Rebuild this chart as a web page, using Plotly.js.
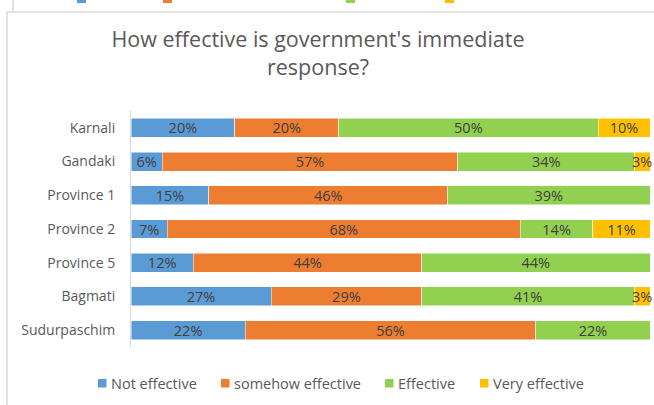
<!DOCTYPE html>
<html>
<head>
<meta charset="utf-8">
<script src="https://cdn.plot.ly/plotly-3.0.1.min.js"></script>
<style>html,body{margin:0;padding:0;background:#fff;}#chart{width:654px;height:405px;}</style>
</head>
<body>
<div id="chart"></div>
<script>
// ---- data ----
const provinces = ['Karnali', 'Gandaki', 'Province 1', 'Province 2', 'Province 5', 'Bagmati', 'Sudurpaschim'];
const notEffective = [20, 6, 15, 7, 12, 27, 22];
const somehowEffective = [20, 57, 46, 68, 44, 29, 56];
const effective = [50, 34, 39, 14, 44, 41, 22];
const veryEffective = [10, 3, 0, 11, 0, 3, 0];
const seriesNames = ['Not effective', 'somehow effective', 'Effective', 'Very effective'];
const seriesColors = ['#5B9BD5', '#ED7D31', '#92D050', '#FFC000'];
const chartTitle = "How effective is government's immediate<br>response?";

// ---- layout helpers ----
const W = 654, H = 405, ML = 131, MR = 4, MT = 111, MB = 58;
const PW = W - ML - MR, PH = H - MT - MB;
const px = v => (v - ML) / PW;
const py = v => (H - MB - v) / PH;
const FONT = 'Open Sans, Liberation Sans, sans-serif';

const allSeries = [notEffective, somehowEffective, effective, veryEffective];
const traces = allSeries.map((vals, i) => ({
  type: 'bar',
  orientation: 'h',
  name: seriesNames[i],
  y: provinces,
  x: vals,
  text: vals.map(v => v > 0 ? v + '%' : ''),
  textposition: 'inside',
  insidetextanchor: 'middle',
  textangle: 0,
  constraintext: 'none',
  textfont: {family: FONT, size: 14.5, color: '#404040'},
  marker: {color: seriesColors[i], line: {color: '#ffffff', width: 0.5}},
  hoverinfo: 'skip',
  cliponaxis: false
}));

const shapes = [
  // outer frame of this chart
  {type: 'line', xref: 'paper', yref: 'paper', x0: px(7), x1: px(7), y0: py(12), y1: py(410), line: {color: '#d9d9d9', width: 1.5}},
  {type: 'line', xref: 'paper', yref: 'paper', x0: px(7), x1: px(660), y0: py(12), y1: py(12), line: {color: '#d9d9d9', width: 1.5}},
  // frame of the chart above (cut by the top edge)
  {type: 'line', xref: 'paper', yref: 'paper', x0: px(13), x1: px(13), y0: py(-5), y1: py(11), line: {color: '#d9d9d9', width: 1.5}}
];
const annotations = [];

// custom bottom legend
const legX = [98, 221, 385, 480];
legX.forEach((x, i) => {
  shapes.push({type: 'rect', xref: 'paper', yref: 'paper', x0: px(x), x1: px(x + 8.5), y0: py(379), y1: py(387.5),
    fillcolor: seriesColors[i], line: {width: 0}});
  annotations.push({xref: 'paper', yref: 'paper', x: px(x + 11), y: py(383.5), xanchor: 'left', yanchor: 'middle',
    text: seriesNames[i], showarrow: false, font: {family: FONT, size: 14.5, color: '#595959'}});
});

// colour keys of the legend of the chart above (cut by the top edge)
const prevX = [77, 163, 346, 445];
prevX.forEach((x, i) => {
  shapes.push({type: 'rect', xref: 'paper', yref: 'paper', x0: px(x), x1: px(x + 9), y0: py(-5), y1: py(3),
    fillcolor: seriesColors[i], line: {width: 0}});
});

const layout = {
  width: W, height: H,
  margin: {l: ML, r: MR, t: MT, b: MB, pad: 0},
  paper_bgcolor: '#ffffff', plot_bgcolor: '#ffffff',
  barmode: 'stack',
  bargap: 0.44,
  showlegend: false,
  title: {
    text: chartTitle,
    font: {family: FONT, size: 21.5, color: '#595959'},
    xref: 'container', x: 318 / W, xanchor: 'center',
    yref: 'container', y: 1 - 47 / H, yanchor: 'middle'
  },
  xaxis: {range: [0, 100], visible: false, fixedrange: true},
  yaxis: {
    autorange: 'reversed',
    showline: true, linecolor: '#d9d9d9', linewidth: 1,
    showgrid: false, zeroline: false,
    ticks: '', ticklabelstandoff: 12,
    tickfont: {family: FONT, size: 14, color: '#595959'},
    fixedrange: true
  },
  shapes: shapes,
  annotations: annotations
};

Plotly.newPlot('chart', traces, layout, {displayModeBar: false, staticPlot: true});
</script>
</body>
</html>
